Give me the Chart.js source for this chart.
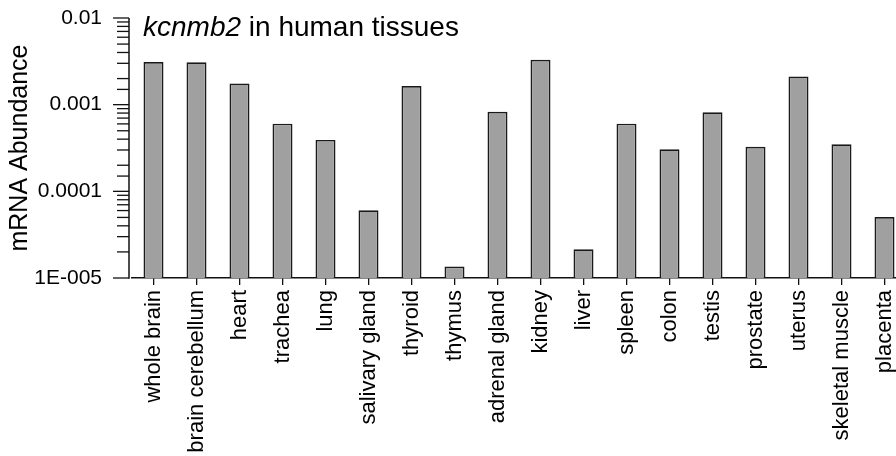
<!DOCTYPE html>
<html>
<head>
<meta charset="utf-8">
<script src="https://cdn.jsdelivr.net/npm/chart.js@4/dist/chart.umd.min.js"></script>
<style>
  html, body { margin: 0; padding: 0; background: #fff; overflow: hidden; }
  #wrap { position: absolute; left: 0; top: 0; width: 910px; height: 456px; }
</style>
</head>
<body>
<div id="wrap"><canvas id="c" width="910" height="456"></canvas></div>
<script>
// ---- data ----
const categories = ['whole brain','brain cerebellum','heart','trachea','lung','salivary gland','thyroid','thymus','adrenal gland','kidney','liver','spleen','colon','testis','prostate','uterus','skeletal muscle','placenta'];
const abundance = [0.00311,0.00308,0.00176,0.000604,0.000392,0.0000605,0.00164,0.0000136,0.000826,0.00330,0.0000214,0.000604,0.000305,0.000819,0.000327,0.00212,0.000349,0.0000506];
const yTickValues = [1e-5, 1e-4, 1e-3, 1e-2];
const yTickLabels = ['1E-005', '0.0001', '0.001', '0.01'];
const titleItalic = 'kcnmb2';
const titleRest = ' in human tissues';
const yTitle = 'mRNA Abundance';

const FONT = "'Liberation Sans', Arial, Helvetica, sans-serif";
const INK = '#111';

const axisPlugin = {
  id: 'axisPlugin',
  afterDraw(chart) {
    const ctx = chart.ctx;
    const y = chart.scales.y;
    const area = chart.chartArea;
    const ax = area.left - 3;
    ctx.save();
    ctx.strokeStyle = INK;
    ctx.lineWidth = 1.5;
    // y axis line
    ctx.beginPath();
    ctx.moveTo(ax, y.getPixelForValue(y.max));
    ctx.lineTo(ax, y.getPixelForValue(y.min) + 0.75);
    ctx.stroke();
    // y ticks (major + minor)
    ctx.lineWidth = 1.3;
    y.ticks.forEach(t => {
      const py = y.getPixelForValue(t.value);
      const lg = Math.log10(t.value);
      const major = Math.abs(lg - Math.round(lg)) < 1e-6;
      const len = major ? 16 : 12;
      ctx.beginPath();
      ctx.moveTo(ax - len, py);
      ctx.lineTo(ax, py);
      ctx.stroke();
    });
    // title with italic gene name
    ctx.fillStyle = '#000';
    ctx.textBaseline = 'alphabetic';
    ctx.textAlign = 'left';
    const tx = area.left + 11, ty = area.top + 18;
    ctx.font = 'italic 28px ' + FONT;
    ctx.fillText(titleItalic, tx, ty);
    const w = ctx.measureText(titleItalic).width;
    ctx.font = '28px ' + FONT;
    ctx.fillText(titleRest, tx + w, ty);
    ctx.restore();
  }
};

new Chart(document.getElementById('c'), {
  type: 'bar',
  data: {
    labels: categories,
    datasets: [{
      data: abundance,
      backgroundColor: '#a0a0a0',
      borderColor: '#1a1a1a',
      borderWidth: 1.7,
      borderSkipped: 'start',
      categoryPercentage: 1.0,
      barPercentage: 0.465
    }]
  },
  options: {
    responsive: false,
    animation: false,
    devicePixelRatio: 1,
    layout: { padding: { top: 18, right: 4, left: 0, bottom: 0 } },
    plugins: { legend: { display: false }, title: { display: false }, tooltip: { enabled: false } },
    scales: {
      x: {
        type: 'category',
        offset: true,
        grid: { display: true, drawOnChartArea: false, drawTicks: true, tickLength: 7, color: INK, lineWidth: 1.3, offset: false },
        border: { display: true, color: INK, width: 1.5 },
        ticks: { color: '#000', font: { family: FONT, size: 22 }, minRotation: 90, maxRotation: 90, autoSkip: false, padding: 5 },
        afterFit(s) { s.height = 178; s.paddingLeft = 0; s.paddingRight = 0; s.paddingTop = 0; s.paddingBottom = 0; }
      },
      y: {
        type: 'logarithmic',
        min: yTickValues[0],
        max: yTickValues[yTickValues.length - 1],
        grid: { display: false },
        border: { display: false },
        ticks: {
          autoSkip: false,
          color: '#000',
          font: { family: FONT, size: 21 },
          padding: 22,
          callback(v) {
            const i = yTickValues.findIndex(t => Math.abs(Math.log10(t) - Math.log10(v)) < 1e-6);
            return i >= 0 ? yTickLabels[i] : '';
          }
        },
        title: { display: true, text: yTitle, color: '#000', font: { family: FONT, size: 25 }, padding: { top: 5, bottom: 0 } },
        afterFit(s) { s.width = 132; s.paddingTop = 0; s.paddingBottom = 0; s.paddingLeft = 0; s.paddingRight = 0; }
      }
    }
  },
  plugins: [axisPlugin]
});
</script>
</body>
</html>
